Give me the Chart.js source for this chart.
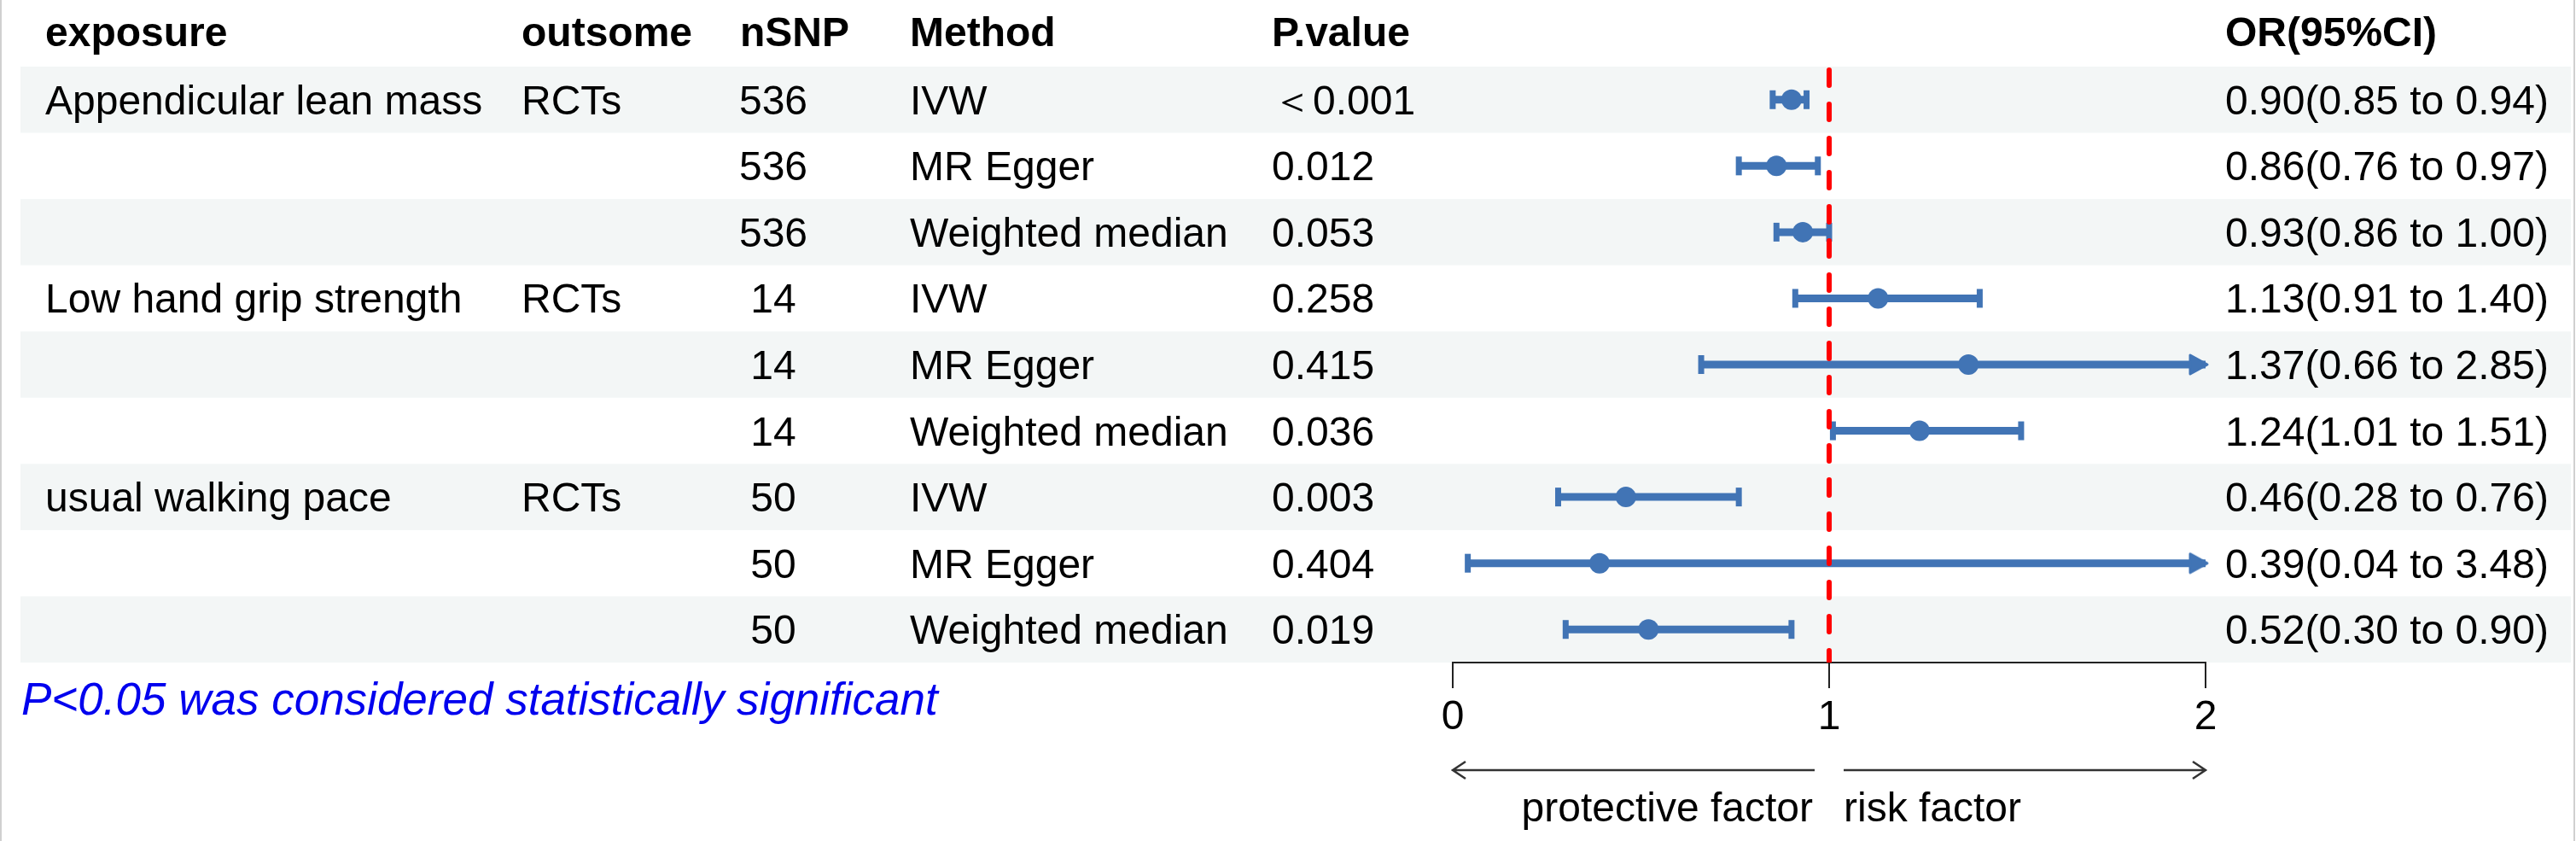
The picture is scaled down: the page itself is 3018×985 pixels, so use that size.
<!DOCTYPE html>
<html>
<head>
<meta charset="utf-8">
<script src="https://cdn.jsdelivr.net/npm/chart.js@4.4.0/dist/chart.umd.min.js"></script>
<style>
  html, body { margin: 0; padding: 0; background: #fff; }
  canvas { display: block; }
</style>
</head>
<body>
<canvas id="forest" width="3018" height="985"></canvas>
<script>
// table columns
const headers = ['exposure', 'outsome', 'nSNP', 'Method', 'P.value', 'OR(95%CI)'];
const exposures = ['Appendicular lean mass', '', '', 'Low hand grip strength', '', '', 'usual walking pace', '', ''];
const outcomes = ['RCTs', '', '', 'RCTs', '', '', 'RCTs', '', ''];
const nSNP = [536, 536, 536, 14, 14, 14, 50, 50, 50];
const methods = ['IVW', 'MR Egger', 'Weighted median', 'IVW', 'MR Egger', 'Weighted median', 'IVW', 'MR Egger', 'Weighted median'];
const pValues = ['＜0.001', '0.012', '0.053', '0.258', '0.415', '0.036', '0.003', '0.404', '0.019'];

// odds ratios and 95% CI
const oddsRatio = [0.90, 0.86, 0.93, 1.13, 1.37, 1.24, 0.46, 0.39, 0.52];
const lowerCI = [0.85, 0.76, 0.86, 0.91, 0.66, 1.01, 0.28, 0.04, 0.30];
const upperCI = [0.94, 0.97, 1.00, 1.40, 2.85, 1.51, 0.76, 3.48, 0.90];

// axis
const xTicks = [0, 1, 2];
const refValue = 1;
const footnote = 'P<0.05 was considered statistically significant';
const leftLabel = 'protective factor';
const rightLabel = 'risk factor';

const FONT = '"Liberation Sans", Arial, Helvetica, sans-serif';
const BLUE = '#4174b5';
const xMin = xTicks[0];
const xMax = xTicks[xTicks.length - 1];

// arrow head used where the CI runs past the axis; tip sits on the point
function arrowHeadImage() {
    const c = document.createElement('canvas');
    c.width = 54;
    c.height = 30;
    const g = c.getContext('2d');
    g.fillStyle = BLUE;
    g.strokeStyle = BLUE;
    g.lineWidth = 3;
    g.lineJoin = 'round';
    g.beginPath();
    g.moveTo(29, 15);
    g.lineTo(9, 4);
    g.lineTo(9, 26);
    g.closePath();
    g.fill();
    g.stroke();
    return c;
}

// build datasets from the arrays
const rows = methods.map((m, i) => i + 1);

const ciDatasets = rows.map((r, i) => ({
    type: 'line',
    data: [{ x: lowerCI[i], y: r }, { x: Math.min(upperCI[i], xMax), y: r }],
    borderColor: BLUE,
    borderWidth: 9,
    pointRadius: 0,
    order: 3
}));

const capPoints = [];
rows.forEach((r, i) => {
    capPoints.push({ x: lowerCI[i], y: r });
    if (upperCI[i] <= xMax) capPoints.push({ x: upperCI[i], y: r });
});

const arrowPoints = rows
    .filter((r, i) => upperCI[i] > xMax)
    .map(r => ({ x: xMax, y: r }));

const datasets = [
    {
        type: 'line',
        data: [{ x: refValue, y: 0.55 }, { x: refValue, y: rows.length + 0.5 }],
        borderColor: '#ff0000',
        borderWidth: 6,
        borderDash: [18, 22],
        borderCapStyle: 'round',
        pointRadius: 0,
        order: 0
    },
    {
        type: 'scatter',
        data: oddsRatio.map((v, i) => ({ x: v, y: rows[i] })),
        backgroundColor: BLUE,
        borderWidth: 0,
        pointRadius: 12,
        pointStyle: 'circle',
        order: 1
    },
    {
        type: 'scatter',
        data: capPoints,
        borderColor: BLUE,
        borderWidth: 7,
        pointRadius: 11,
        pointStyle: 'line',
        rotation: 90,
        order: 2
    },
    {
        type: 'scatter',
        data: arrowPoints,
        pointStyle: arrowHeadImage(),
        pointRadius: 14,
        clip: false,
        order: 2
    },
    ...ciDatasets
];

// stripes, table text and bottom annotations
const tablePlugin = {
    id: 'forestTable',
    beforeDraw(chart) {
        const { ctx, scales: { y } } = chart;
        ctx.save();
        ctx.fillStyle = '#ffffff';
        ctx.fillRect(0, 0, chart.width, chart.height);
        ctx.fillStyle = '#f3f6f6';
        rows.forEach((r, i) => {
            if (i % 2 === 0) {
                const top = y.getPixelForValue(r - 0.5);
                const bottom = y.getPixelForValue(r + 0.5);
                ctx.fillRect(24, top, 3012 - 24, bottom - top);
            }
        });
        // image frame
        ctx.fillStyle = '#d0d0d0';
        ctx.fillRect(0, 0, 2, chart.height);
        ctx.fillRect(chart.width - 3, 0, 2, chart.height);
        ctx.restore();
    },
    afterDraw(chart) {
        const { ctx, scales: { x, y } } = chart;
        const lift = 17;
        ctx.save();
        ctx.fillStyle = '#000';
        ctx.textBaseline = 'alphabetic';

        // header
        ctx.font = 'bold 48px ' + FONT;
        const headY = y.getPixelForValue(0) + 15;
        const headX = [53, 611, 867, 1066, 1490, 2607];
        headers.forEach((h, k) => {
            ctx.textAlign = 'left';
            ctx.fillText(h, headX[k], headY);
        });

        // rows
        ctx.font = '48px ' + FONT;
        rows.forEach((r, i) => {
            const ty = y.getPixelForValue(r) + lift;
            ctx.textAlign = 'left';
            ctx.fillText(exposures[i], 53, ty);
            ctx.fillText(outcomes[i], 611, ty);
            ctx.fillText(methods[i], 1066, ty);
            ctx.fillText(pValues[i], 1490, ty);
            const label = oddsRatio[i].toFixed(2) + '(' + lowerCI[i].toFixed(2) + ' to ' + upperCI[i].toFixed(2) + ')';
            ctx.fillText(label, 2607, ty);
            ctx.textAlign = 'center';
            ctx.fillText(String(nSNP[i]), 906, ty);
        });

        // footnote
        ctx.font = 'italic 53px ' + FONT;
        ctx.fillStyle = '#0000ee';
        ctx.textAlign = 'left';
        ctx.fillText(footnote, 25, x.top + 61);

        // direction arrows
        const ay = x.top + 126;
        const mid = x.getPixelForValue(refValue);
        const x0 = x.getPixelForValue(xMin);
        const x2 = x.getPixelForValue(xMax);
        ctx.strokeStyle = '#333';
        ctx.lineWidth = 2.5;
        ctx.beginPath();
        ctx.moveTo(mid - 17, ay); ctx.lineTo(x0, ay);
        ctx.moveTo(x0 + 15, ay - 10); ctx.lineTo(x0, ay); ctx.lineTo(x0 + 15, ay + 10);
        ctx.moveTo(mid + 17, ay); ctx.lineTo(x2, ay);
        ctx.moveTo(x2 - 15, ay - 10); ctx.lineTo(x2, ay); ctx.lineTo(x2 - 15, ay + 10);
        ctx.stroke();

        ctx.fillStyle = '#000';
        ctx.font = '48px ' + FONT;
        ctx.textAlign = 'right';
        ctx.fillText(leftLabel, mid - 19, x.top + 186);
        ctx.textAlign = 'left';
        ctx.fillText(rightLabel, mid + 17, x.top + 186);
        ctx.restore();
    }
};

new Chart(document.getElementById('forest'), {
    type: 'scatter',
    data: { datasets: datasets },
    options: {
        responsive: false,
        devicePixelRatio: 1,
        animation: false,
        layout: { padding: { left: 1702, right: 434, top: 78, bottom: 0 } },
        plugins: {
            legend: { display: false },
            tooltip: { enabled: false }
        },
        scales: {
            x: {
                type: 'linear',
                min: xMin,
                max: xMax,
                afterBuildTicks: (scale) => { scale.ticks = xTicks.map(v => ({ value: v })); },
                afterFit: (scale) => { scale.height = 209; },
                grid: { drawOnChartArea: false, drawTicks: true, tickLength: 30, color: '#222', lineWidth: 2 },
                border: { display: true, color: '#222', width: 2 },
                ticks: {
                    padding: 6,
                    color: '#000',
                    font: { family: FONT, size: 48 },
                    callback: (v) => String(v)
                }
            },
            y: {
                type: 'linear',
                min: 0.5,
                max: rows.length + 0.5,
                reverse: true,
                display: false
            }
        }
    },
    plugins: [tablePlugin]
});
</script>
</body>
</html>
